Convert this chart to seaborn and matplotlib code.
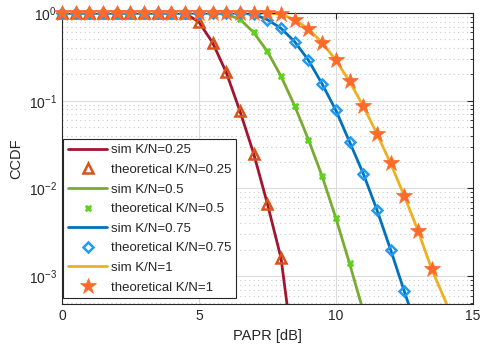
import numpy as np
import pandas as pd
import seaborn as sns
import matplotlib
matplotlib.use("Agg")
import matplotlib.pyplot as plt
from matplotlib.ticker import LogLocator, NullFormatter

# PAPR grid in dB (0.5 dB steps)
papr_db = [0.0, 0.5, 1.0, 1.5, 2.0, 2.5, 3.0, 3.5, 4.0, 4.5, 5.0, 5.5, 6.0, 6.5,
           7.0, 7.5, 8.0, 8.5, 9.0, 9.5, 10.0, 10.5, 11.0, 11.5, 12.0, 12.5,
           13.0, 13.5, 14.0, 14.5]

# simulated CCDF curves
sim_025 = [1, 1, 1, 1, 1, 1, 1, 1, 1, 0.99, 0.79, 0.46, 0.21, 0.076, 0.025,
           0.0067, 0.0016, 0.0001]
sim_050 = [1, 1, 1, 1, 1, 1, 1, 1, 1, 1, 1, 0.995, 0.97, 0.85, 0.60, 0.365,
           0.19, 0.087, 0.036, 0.0138, 0.0046, 0.0014, 0.0004]
sim_075 = [1, 1, 1, 1, 1, 1, 1, 1, 1, 1, 1, 1, 1, 0.995, 0.97, 0.84, 0.67,
           0.47, 0.29, 0.155, 0.078, 0.034, 0.0148, 0.0057, 0.0020, 0.00067,
           0.00023]
sim_100 = [1, 1, 1, 1, 1, 1, 1, 1, 1, 1, 1, 1, 1, 1, 1, 0.995, 0.97, 0.84,
           0.66, 0.46, 0.29, 0.166, 0.087, 0.042, 0.0193, 0.0082, 0.0033,
           0.0012, 0.00052, 0.0002]

# theoretical CCDF points
theo_025 = [1, 1, 1, 1, 1, 1, 1, 1, 1, 1, 0.79, 0.46, 0.21, 0.076, 0.025,
            0.0067, 0.0016]
theo_050 = [1, 1, 1, 1, 1, 1, 1, 1, 1, 1, 1, 1, 0.97, 0.85, 0.60, 0.365,
            0.19, 0.087, 0.036, 0.0138, 0.0046, 0.0014]
theo_075 = [1, 1, 1, 1, 1, 1, 1, 1, 1, 1, 1, 1, 1, 0.995, 0.97, 0.84, 0.67,
            0.47, 0.29, 0.155, 0.078, 0.034, 0.0148, 0.0057, 0.0020, 0.00067]
theo_100 = [1, 1, 1, 1, 1, 1, 1, 1, 1, 1, 1, 1, 1, 1, 1, 1, 0.97, 0.84,
            0.66, 0.46, 0.29, 0.166, 0.087, 0.042, 0.0193, 0.0082, 0.0033,
            0.0012]

ratios = ["0.25", "0.5", "0.75", "1"]
sims = [sim_025, sim_050, sim_075, sim_100]
theos = [theo_025, theo_050, theo_075, theo_100]

sns.set_style("white")
plt.rcParams["font.family"] = ["Liberation Sans", "DejaVu Sans"]

line_colors = ["#A2142F", "#77AC30", "#0072BD", "#EDB120"]
marker_styles = [
    dict(marker="^", markersize=7.5, markerfacecolor="none", markeredgecolor="#D95319", markeredgewidth=1.8),
    dict(marker="X", markersize=5, markerfacecolor="#5fd11a", markeredgecolor="#5fd11a", markeredgewidth=0.6),
    dict(marker="D", markersize=5, markerfacecolor="none", markeredgecolor="#1f9cf0", markeredgewidth=1.8),
    dict(marker="*", markersize=12, markerfacecolor="#ff6a2a", markeredgecolor="#ff6a2a", markeredgewidth=0.5),
]

fig, ax = plt.subplots(figsize=(4.8, 3.52), dpi=100)
fig.subplots_adjust(left=0.129, right=0.985, top=0.963, bottom=0.136)

for r, s, t, lc, ms in zip(ratios, sims, theos, line_colors, marker_styles):
    sim_df = pd.DataFrame({"papr": papr_db[:len(s)], "ccdf": s})
    theo_df = pd.DataFrame({"papr": papr_db[:len(t)], "ccdf": t})
    sns.lineplot(data=sim_df, x="papr", y="ccdf", ax=ax, color=lc, lw=2.0,
                 estimator=None, sort=False, label=f"sim K/N={r}")
    sns.lineplot(data=theo_df, x="papr", y="ccdf", ax=ax, color=ms["markeredgecolor"],
                 linestyle="", estimator=None, sort=False, clip_on=False,
                 label=f"theoretical K/N={r}", zorder=3, **ms)

ax.set_yscale("log")
ax.set_xlim(0, 15)
ax.set_ylim(4.8e-4, 1)
ax.set_xticks([0, 5, 10, 15])
ax.yaxis.set_major_locator(LogLocator(base=10, numticks=10))
ax.yaxis.set_minor_locator(LogLocator(base=10, subs=np.arange(2, 10), numticks=20))
ax.yaxis.set_minor_formatter(NullFormatter())

ax.grid(True, which="major", color="#dcdcdc", lw=0.8, ls="-")
ax.grid(True, which="minor", axis="y", color="#c8c8c8", lw=0.8, ls=(0, (1, 3)))
ax.set_axisbelow(True)

ax.tick_params(which="both", direction="in", top=True, right=True,
               colors="#262626", labelsize=10)
ax.tick_params(which="major", length=4)
ax.tick_params(which="minor", length=2)
for sp in ax.spines.values():
    sp.set_color("#262626")
    sp.set_linewidth(0.8)

ax.set_xlabel("PAPR [dB]", fontsize=10.5, color="#262626", labelpad=4)
ax.set_ylabel("CCDF", fontsize=10.5, color="#262626", labelpad=4)

leg = ax.legend(loc="lower left", bbox_to_anchor=(0.003, 0.02), borderaxespad=0,
                fontsize=9.5, frameon=True, fancybox=False, framealpha=1,
                edgecolor="#262626", handlelength=3.0, handletextpad=0.3,
                labelspacing=0.56, borderpad=0.35)
leg.get_frame().set_linewidth(0.8)

fig.savefig("out.png", dpi=100)
